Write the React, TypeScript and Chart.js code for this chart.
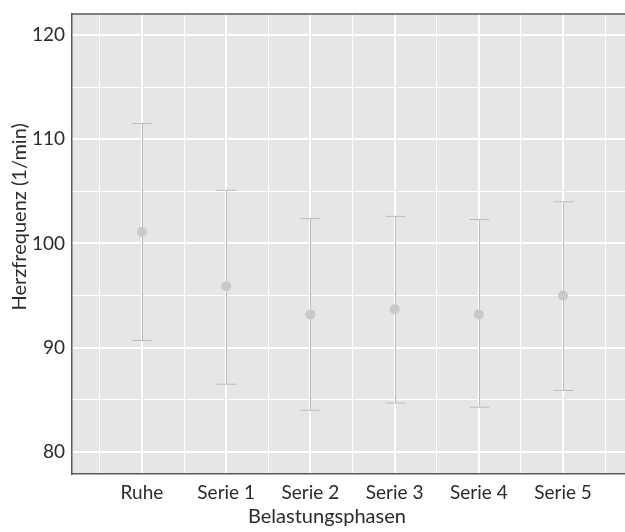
import { useEffect, useRef } from "react";
import { Chart, registerables } from "chart.js";
Chart.register(...registerables);

const categories = ["Ruhe", "Serie 1", "Serie 2", "Serie 3", "Serie 4", "Serie 5"];
const means = [101.1, 95.9, 93.2, 93.7, 93.2, 95.0];
const upper = [111.5, 105.1, 102.4, 102.6, 102.3, 104.0];
const lower = [90.7, 86.5, 84.0, 84.7, 84.3, 85.9];
const yGridValues = [80, 85, 90, 95, 100, 105, 110, 115, 120];
const xGridValues = [-0.5, 0, 0.5, 1, 1.5, 2, 2.5, 3, 3.5, 4, 4.5, 5, 5.5];
const yTitle = "Herzfrequenz (1/min)";
const xTitle = "Belastungsphasen";

const FONT = "Lato, 'DejaVu Sans', sans-serif";
const TEXT = "#2b2b2b";

const panelPlugin = {
  id: "panel",
  beforeDraw(chart: any) {
    const { ctx, chartArea: a } = chart;
    ctx.save();
    ctx.fillStyle = "#e6e6e6";
    ctx.fillRect(a.left, a.top, a.right - a.left, a.bottom - a.top);
    ctx.restore();
  },
  beforeDatasetsDraw(chart: any) {
    const { ctx } = chart;
    const xs = chart.scales.x;
    const ys = chart.scales.y;
    ctx.save();
    ctx.strokeStyle = "#bcbcbc";
    ctx.lineWidth = 1;
    for (let i = 0; i < categories.length; i++) {
      const x = Math.round(xs.getPixelForValue(i)) + 0.5;
      const yt = ys.getPixelForValue(upper[i]);
      const yb = ys.getPixelForValue(lower[i]);
      ctx.beginPath();
      ctx.moveTo(x, yt);
      ctx.lineTo(x, yb);
      ctx.moveTo(x - 10, yt);
      ctx.lineTo(x + 10, yt);
      ctx.moveTo(x - 10, yb);
      ctx.lineTo(x + 10, yb);
      ctx.stroke();
    }
    ctx.restore();
  },
  afterDraw(chart: any) {
    const { ctx, chartArea: a } = chart;
    ctx.save();
    ctx.strokeStyle = "#5a5a5a";
    ctx.lineWidth = 1.5;
    ctx.beginPath();
    ctx.moveTo(a.left, a.top);
    ctx.lineTo(a.right, a.top);
    ctx.stroke();
    ctx.fillStyle = TEXT;
    ctx.font = `20px ${FONT}`;
    ctx.textAlign = "center";
    ctx.textBaseline = "middle";
    const xc = a.left + (a.right - a.left) * 0.461;
    ctx.fillText(xTitle, xc, 517);
    ctx.translate(20, a.top + (a.bottom - a.top) * 0.441);
    ctx.rotate(-Math.PI / 2);
    ctx.fillText(yTitle, 0, 0);
    ctx.restore();
  },
};

const noPad = (s: any) => {
  s.paddingTop = 0;
  s.paddingBottom = 0;
  s.paddingLeft = 0;
  s.paddingRight = 0;
};

export default function App() {
  const ref = useRef<HTMLCanvasElement>(null);
  useEffect(() => {
    if (!ref.current) return;
    const chart = new Chart(ref.current, {
      type: "scatter",
      data: {
        datasets: [
          {
            data: means.map((m, i) => ({ x: i, y: m })),
            pointRadius: 5,
            pointBackgroundColor: "#c9c9c9",
            pointBorderWidth: 0,
            borderColor: "#c9c9c9",
          },
        ],
      },
      plugins: [panelPlugin],
      options: {
        animation: false,
        responsive: true,
        maintainAspectRatio: false,
        layout: { autoPadding: false, padding: { top: 14, left: 0, right: 0, bottom: 0 } },
        plugins: { legend: { display: false }, tooltip: { enabled: false } },
        scales: {
          x: {
            type: "linear",
            min: -0.831,
            max: 5.736,
            afterBuildTicks: (s: any) => {
              s.ticks = xGridValues.map((v) => ({ value: v }));
            },
            afterFit: (s: any) => {
              s.height = 58;
              noPad(s);
            },
            ticks: {
              autoSkip: false,
              maxRotation: 0,
              padding: 7,
              color: TEXT,
              font: { size: 19, family: FONT },
              callback: (v: any) => (Number.isInteger(v) && v >= 0 && v < categories.length ? categories[v] : ""),
            },
            grid: {
              color: "#ffffff",
              lineWidth: (c: any) => (c.tick && Number.isInteger(c.tick.value) ? 2 : 1),
              drawTicks: false,
            },
            border: { display: true, color: "#5a5a5a", width: 1.5 },
          },
          y: {
            min: 77.89,
            max: 122.01,
            afterBuildTicks: (s: any) => {
              s.ticks = yGridValues.map((v) => ({ value: v }));
            },
            afterFit: (s: any) => {
              s.width = 72;
              noPad(s);
            },
            ticks: {
              autoSkip: false,
              padding: 7,
              color: TEXT,
              font: { size: 19, family: FONT },
              callback: (v: any) => (v % 10 === 0 ? String(v) : ""),
            },
            grid: {
              color: "#ffffff",
              lineWidth: (c: any) => (c.tick && c.tick.value % 10 === 0 ? 2 : 1),
              drawTicks: false,
            },
            border: { display: true, color: "#5a5a5a", width: 1.5 },
          },
        },
      },
    });
    return () => chart.destroy();
  }, []);
  return (
    <div style={{ position: "fixed", left: 0, top: 0, width: 625, height: 532, background: "#fff" }}>
      <canvas ref={ref} />
    </div>
  );
}
